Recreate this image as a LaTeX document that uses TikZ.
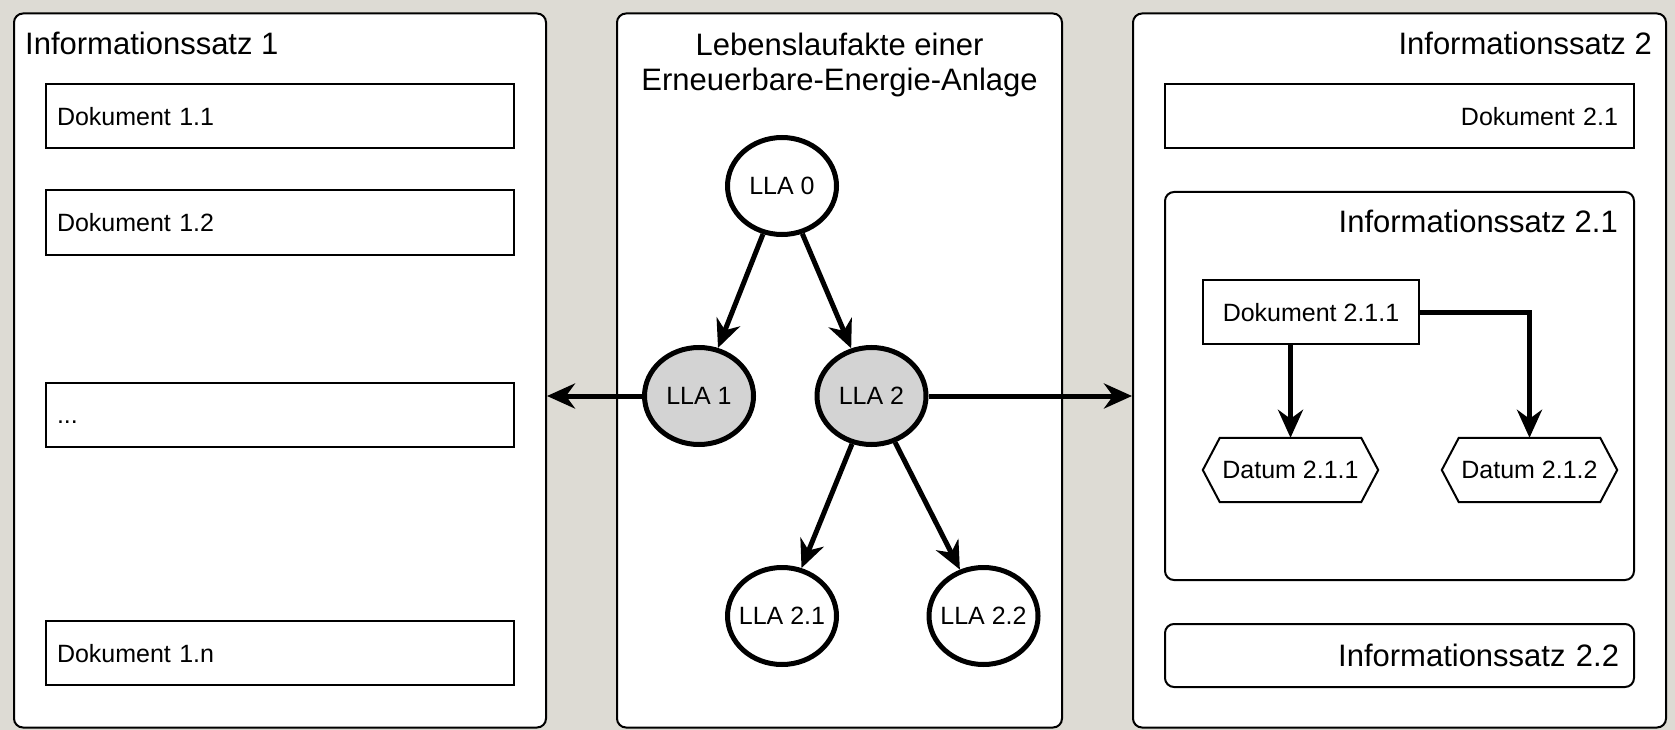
\documentclass[tikz,border=0pt]{standalone}
\usepackage{fontspec}
\setmainfont{Liberation Sans}
\usetikzlibrary{shapes.geometric,arrows.meta,calc}
\definecolor{bgcol}{RGB}{221,219,212}
\definecolor{llagray}{RGB}{211,211,211}
\begin{document}
\begin{tikzpicture}[x=1pt,y=-1pt,
  bigfont/.style={font=\fontsize{31pt}{35pt}\selectfont},
  smallfont/.style={font=\fontsize{25pt}{30pt}\selectfont},
  setbox/.style={rectangle, draw, line width=2pt, fill=white, rounded corners=9pt, inner sep=0pt},
  docbox/.style={rectangle, draw, line width=2pt, fill=white, inner sep=0pt, smallfont, text height=18.2pt, text depth=0pt},
  ell/.style={ellipse, draw, line width=5pt, fill=white, minimum width=109pt, minimum height=97pt, inner sep=0pt, smallfont},
  datum/.style={rectangle, inner sep=0pt, minimum width=175pt, minimum height=64pt, smallfont},
  hexline/.style={line width=2pt},
  arr/.style={line width=5pt, -{Stealth[length=28pt,width=25pt,inset=9pt]}}]
\fill[bgcol] (0,0) rectangle (1675,730);
\useasboundingbox (0,0) rectangle (1675,730);

% outer boxes
\node[setbox, minimum width=532pt, minimum height=714pt] (set1) at (280,370.5) {};
\node[setbox, minimum width=445pt, minimum height=714pt] (set0) at (839.5,370.5) {};
\node[setbox, minimum width=533pt, minimum height=714pt] (set2) at (1399.5,370.5) {};

% titles
\node[bigfont, anchor=base west, inner sep=0pt] (t1) at (25,55) {Informationssatz 1};
\node[bigfont, anchor=north, inner sep=0pt, align=center] (t0) at (839.5,32.4) {Lebenslaufakte einer\\Erneuerbare-Energie-Anlage};
\node[bigfont, anchor=base east, inner sep=0pt] (t2) at (1652,55) {Informationssatz 2};

% left documents
\node[docbox, minimum width=468pt, minimum height=64pt, text width=446pt, align=left] (d11) at (280,116) {Dokument 1.1};
\node[docbox, minimum width=468pt, minimum height=64pt, text width=446pt, align=left] (d12) at (280,222.5) {Dokument 1.2};
\node[docbox, minimum width=468pt, minimum height=64pt, text width=446pt, align=left] (d1x) at (280,414.5) {...};
\node[docbox, minimum width=468pt, minimum height=64pt, text width=446pt, align=left] (d1n) at (280,653) {Dokument 1.n};

% right side
\node[docbox, minimum width=469pt, minimum height=64pt, text width=437pt, align=right] (d21) at (1399.5,116) {Dokument 2.1};
\node[setbox, minimum width=469pt, minimum height=388pt] (set21) at (1399.5,386) {};
\node[bigfont, anchor=base east, inner sep=0pt] (t21) at (1618,233) {Informationssatz 2.1};
\node[setbox, bigfont, minimum width=469pt, minimum height=63pt, text width=439pt, align=right] (set22) at (1399.5,655.5) {Informationssatz 2.2};

\node[docbox, minimum width=216pt, minimum height=64pt] (d211) at (1311,312) {Dokument 2.1.1};
\node[datum] (dat1) at (1290.5,470) {Datum 2.1.1};
\node[datum] (dat2) at (1529.5,470) {Datum 2.1.2};
\foreach \d in {dat1,dat2}{
  \draw[hexline] (\d.west) -- ($(\d.north west)+(17,0)$) -- ($(\d.north east)+(-17,0)$) -- (\d.east) -- ($(\d.south east)+(-17,0)$) -- ($(\d.south west)+(17,0)$) -- cycle;
}

% life cycle nodes
\node[ell] (l0) at (782,186) {\makebox[0pt]{LLA 0}};
\node[ell, fill=llagray] (l1) at (699,396) {\makebox[0pt]{LLA 1}};
\node[ell, fill=llagray] (l2) at (871.5,396) {\makebox[0pt]{LLA 2}};
\node[ell] (l21) at (782,616) {\makebox[0pt]{LLA 2.1}};
\node[ell] (l22) at (983.5,616) {\makebox[0pt]{LLA 2.2}};

% connectors
\draw[arr] (l0) -- (l1);
\draw[arr] (l0) -- (l2);
\draw[arr] (l2) -- (l21);
\draw[arr] (l2) -- (l22);
\draw[arr] (l1) -- (l1 -| set1.east);
\draw[arr] (l2) -- (l2 -| set2.west);
\draw[arr] (d211.south -| dat1.north) -- (dat1.north);
\draw[arr] (d211.east) -| (dat2.north);
\end{tikzpicture}
\end{document}
